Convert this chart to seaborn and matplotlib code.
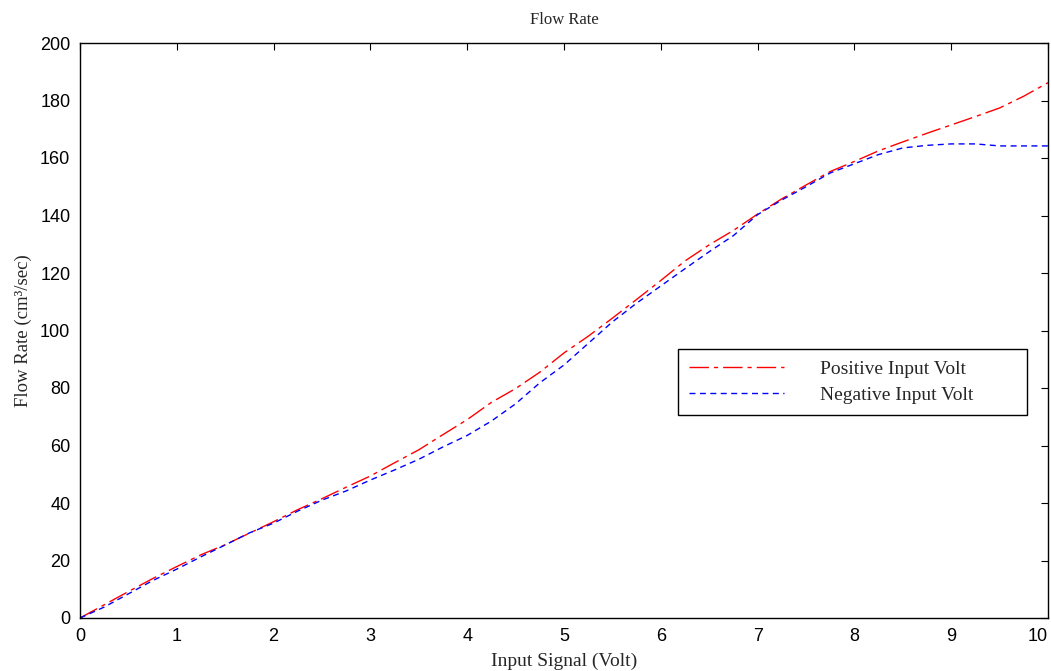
import numpy as np
import pandas as pd
import matplotlib
matplotlib.use("Agg")
import matplotlib.pyplot as plt
import seaborn as sns

# Input signal (Volt)
volts = [0.0, 0.25, 0.5, 0.75, 1.0, 1.25, 1.5, 1.75, 2.0, 2.25, 2.5, 2.75,
         3.0, 3.25, 3.5, 3.75, 4.0, 4.25, 4.5, 4.75, 5.0, 5.25, 5.5, 5.75,
         6.0, 6.25, 6.5, 6.75, 7.0, 7.25, 7.5, 7.75, 8.0, 8.25, 8.5, 8.75,
         9.0, 9.25, 9.5, 9.75, 10.0]

# Flow rate (cm^3/sec)
flow_positive = [0.0, 4.6, 9.2, 13.7, 17.9, 22.0, 25.5, 29.5, 33.5, 37.7, 41.5, 45.5,
                 49.4, 54.0, 58.5, 63.8, 69.0, 75.0, 79.8, 85.5, 92.2, 98.0, 104.3, 110.8,
                 117.4, 124.2, 129.8, 134.8, 140.5, 145.8, 150.6, 155.3, 158.8, 162.5, 165.6, 168.6,
                 171.5, 174.4, 177.4, 181.5, 186.2]
flow_negative = [0.0, 3.8, 8.4, 13.0, 17.0, 21.3, 25.4, 29.6, 33.0, 37.2, 41.0, 44.2,
                 48.0, 51.5, 55.2, 59.5, 63.5, 68.5, 74.5, 81.8, 88.0, 95.5, 103.0, 109.5,
                 115.5, 121.5, 127.4, 133.0, 140.3, 145.4, 150.0, 154.8, 158.0, 161.2, 163.5, 164.4,
                 164.9, 164.9, 164.2, 164.2, 164.2]

series_labels = ["Positive Input Volt", "Negative Input Volt"]
x_ticks = list(range(0, 11))
y_ticks = list(range(0, 201, 20))

sns.set_style("white")
plt.rcParams["font.family"] = ["Liberation Sans", "DejaVu Sans"]
plt.rcParams["lines.scale_dashes"] = False

df = pd.DataFrame({
    "volt": volts * 2,
    "flow": flow_positive + flow_negative,
    "series": [series_labels[0]] * len(volts) + [series_labels[1]] * len(volts),
})

fig = plt.figure(figsize=(10.51, 6.71), dpi=100)
ax = fig.add_axes([80 / 1051, 53 / 671, 968 / 1051, 575 / 671])

sns.lineplot(data=df, x="volt", y="flow", hue="series", style="series",
             palette={series_labels[0]: "#ff0000", series_labels[1]: "#0000ff"},
             dashes={series_labels[0]: (14, 3.6, 3, 3.6),
                     series_labels[1]: (4.3, 3.2)},
             linewidth=1.0, ax=ax, legend=False, sort=False)

ax.set_xlim(0, 10)
ax.set_ylim(0, 200)
ax.set_xticks(x_ticks)
ax.set_yticks(y_ticks)
ax.tick_params(direction="in", length=5, width=0.8, top=True, right=True,
               labelsize=13, pad=7, colors="black")
# keep the last x label inside the figure edge
ax.get_xticklabels()[-1].set_horizontalalignment("right")
ax.get_xticklabels()[-1].set_x(10)
for s in ax.spines.values():
    s.set_visible(True)
    s.set_linewidth(1.0)
    s.set_color("black")

serif = ["Liberation Serif", "DejaVu Serif"]
ax.set_title("Flow Rate", family=serif, fontsize=12, pad=14)
ax.set_xlabel("Input Signal (Volt)", family=serif, fontsize=14, labelpad=6)
ax.set_ylabel("Flow Rate (cm³/sec)", family=serif, fontsize=13.5, labelpad=6)

handles = ax.get_lines()[:2]
leg = ax.legend(handles, series_labels, loc="upper left",
                bbox_to_anchor=(0.618, 0.358, 0.36, 0.109), mode="expand",
                frameon=True, fancybox=False,
                framealpha=1, edgecolor="black", handlelength=4.9,
                handletextpad=1.85, borderpad=0.55, labelspacing=0.45,
                borderaxespad=0, prop={"family": serif, "size": 14})
leg.get_frame().set_linewidth(1.0)

fig.savefig("out.png", dpi=100)
